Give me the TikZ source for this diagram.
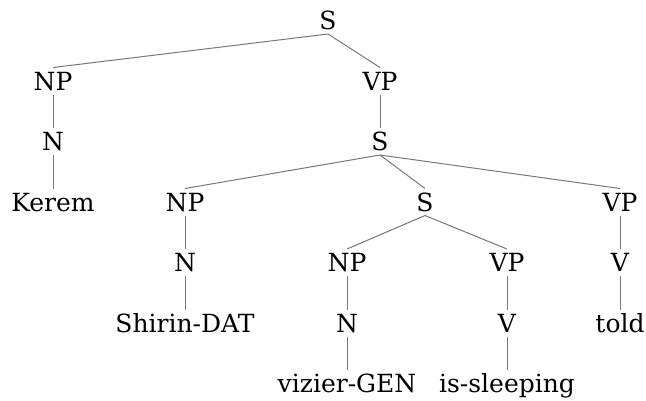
\documentclass[tikz,border=0pt]{standalone}
\usepackage{fontspec}
\setmainfont{DejaVu Serif}
\begin{document}
\begin{tikzpicture}[x=1bp,y=-1bp,
  lbl/.style={anchor=base,inner sep=0pt,outer sep=4.5bp,text height=18bp,text depth=0pt,font=\fontsize{25bp}{30bp}\selectfont},
  edge/.style={draw={rgb,255:red,120;green,120;blue,120},line width=1bp}]
\useasboundingbox (0,0) rectangle (646,400);
% rows (baselines)
\node[lbl] (s0) at (328,29.5) {S};
\node[lbl] (np1) at (53,90) {NP};
\node[lbl] (n1) at (53,150.5) {N};
\node[lbl] (kerem) at (53,211) {Kerem};
\node[lbl] (vp1) at (380,90) {VP};
\node[lbl] (s1) at (380,150.5) {S};
\node[lbl] (np2) at (185,211) {NP};
\node[lbl] (n2) at (185,271.5) {N};
\node[lbl] (shirin) at (185,332) {Shirin-DAT};
\node[lbl] (s2) at (425,211) {S};
\node[lbl] (np3) at (347,271.5) {NP};
\node[lbl] (n3) at (347,332) {N};
\node[lbl] (vizier) at (347,392.5) {vizier-GEN};
\node[lbl] (vp3) at (507,271.5) {VP};
\node[lbl] (v3) at (507,332) {V};
\node[lbl] (sleep) at (507,392.5) {is-sleeping};
\node[lbl] (vp2) at (620,211) {VP};
\node[lbl] (v2) at (620,271.5) {V};
\node[lbl] (told) at (620,332) {told};
% edges
\draw[edge] (s0.south) -- (np1.north);
\draw[edge] (s0.south) -- (vp1.north);
\draw[edge] (np1.south) -- (n1.north);
\draw[edge] (n1.south) -- (kerem.north);
\draw[edge] (vp1.south) -- (s1.north);
\draw[edge] (s1.south) -- (np2.north);
\draw[edge] (s1.south) -- (s2.north);
\draw[edge] (s1.south) -- (vp2.north);
\draw[edge] (np2.south) -- (n2.north);
\draw[edge] (n2.south) -- (shirin.north);
\draw[edge] (s2.south) -- (np3.north);
\draw[edge] (s2.south) -- (vp3.north);
\draw[edge] (np3.south) -- (n3.north);
\draw[edge] (n3.south) -- (vizier.north);
\draw[edge] (vp3.south) -- (v3.north);
\draw[edge] (v3.south) -- (sleep.north);
\draw[edge] (vp2.south) -- (v2.north);
\draw[edge] (v2.south) -- (told.north);
\end{tikzpicture}
\end{document}
